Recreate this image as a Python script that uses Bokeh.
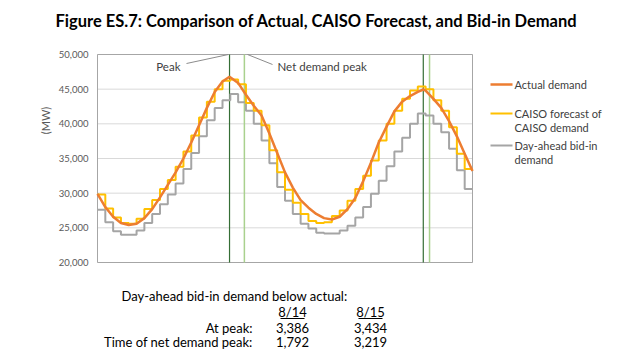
import math
from bokeh.plotting import figure
from bokeh.models import Range1d
from bokeh.core.properties import value
from bokeh.embed import file_html
from bokeh.resources import INLINE

# ---------------- data ----------------
step_hours = list(range(49))  # hour edges over 8/14 - 8/15

bid_in_mw = [27600, 25800, 24500, 24000, 24000, 24600, 25700, 27000, 28400, 29800, 31400, 33500,
             35800, 38200, 40500, 42300, 43400, 44300, 43100, 41900, 40000, 37600, 34300, 30900,
             28900, 27000, 25600, 24900, 24300, 24200, 24200, 24600, 25300, 26500, 28000, 29900,
             31800, 33900, 36000, 38000, 40000, 41500, 41200, 40000, 38800, 36400, 33300, 30600]

forecast_mw = [29800, 27800, 26500, 25700, 25600, 26300, 27700, 29000, 30600, 31900, 33800, 36000,
               38300, 40900, 43200, 45000, 46200, 46400, 45700, 43000, 41900, 39800, 36200, 33000,
               30500, 28600, 27000, 26000, 25700, 25800, 26700, 27500, 28900, 30600, 32500, 34700,
               37600, 40000, 41900, 43600, 44800, 45400, 45000, 43400, 41900, 39500, 35700, 33500]

actual_hours = [0, 1, 2, 3, 4, 5, 6, 7, 8, 9, 10, 11, 12, 13, 14, 15, 16, 16.9, 18, 19, 20, 21, 22,
                23, 24, 25, 26, 27, 28, 29, 30, 31, 32, 33, 34, 35, 36, 37, 38, 39, 40, 41, 41.7,
                42, 43, 44, 45, 46, 47, 48]
actual_mw = [29900, 28000, 26600, 25700, 25400, 25600, 26400, 27700, 29400, 31200, 33000, 35000,
             37300, 39800, 42300, 44600, 46100, 46800, 45900, 44200, 42600, 41200, 38600, 35800,
             33000, 30800, 29000, 27900, 27000, 26400, 26200, 26600, 27700, 29300, 31700, 34400,
             37300, 39600, 41800, 43200, 44000, 44600, 44950, 44800, 43600, 42300, 40400, 38200,
             35700, 33200]

peak_hours = [16.9, 41.7]
net_peak_hours = [18.8, 42.5]

y_ticks = [20000, 25000, 30000, 35000, 40000, 45000, 50000]

series_names = ["Actual demand", "CAISO forecast of\nCAISO demand", "Day-ahead bid-in\ndemand"]

table_dates = ["8/14", "8/15"]
table_at_peak = [3386, 3434]
table_net_peak = [1792, 3219]

# ---------------- layout (pixels) ----------------
W, H = 617, 360
BOX_L, BOX_R, BOX_T, BOX_B = 97, 472, 54, 262   # chart box on the canvas
X0, X1 = step_hours[0], step_hours[-1]
Y0, Y1 = y_ticks[0], y_ticks[-1]
xpp = (X1 - X0) / (BOX_R - BOX_L)
ypp = (Y1 - Y0) / (BOX_B - BOX_T)

def X(px):
    return X0 + (px - BOX_L) * xpp

def Y(py):
    return Y1 - (py - BOX_T) * ypp

FONT = value("Lato")
TXT = "#404040"
C_ACT, C_FC, C_BID = "#ED7D31", "#FFC000", "#A5A5A5"

p = figure(width=W, height=H, output_backend="svg", toolbar_location=None,
           x_range=Range1d(X(0), X(W)), y_range=Range1d(Y(H), Y(0)),
           x_axis_location=None, y_axis_location=None, min_border=0)
p.grid.visible = False
p.outline_line_color = None
p.background_fill_color = "white"
p.border_fill_color = "white"

# horizontal gridlines + chart box
p.segment(x0=[X0] * len(y_ticks), y0=y_ticks, x1=[X1] * len(y_ticks), y1=y_ticks,
          line_color="#D9D9D9", line_width=1)
p.quad(left=[X0], right=[X1], bottom=[Y0], top=[Y1], fill_color=None,
       line_color="#A6A6A6", line_width=1)

# y tick labels and unit label
p.text(x=[X(88)] * len(y_ticks), y=y_ticks, text=[f"{t:,}" for t in y_ticks],
       text_align="right", text_baseline="middle", text_font=FONT,
       text_font_size="9.5px", text_color="#595959")
p.text(x=[X(45)], y=[Y(120)], text=["(MW)"], angle=math.pi / 2, text_align="center",
       text_baseline="middle", text_font=FONT, text_font_size="11px", text_color="#595959")

# peak markers
p.segment(x0=peak_hours, y0=[Y0] * 2, x1=peak_hours, y1=[Y1] * 2,
          line_color="#356E35", line_width=1.2)
p.segment(x0=net_peak_hours, y0=[Y0] * 2, x1=net_peak_hours, y1=[Y1] * 2,
          line_color="#A9D18E", line_width=1.5)

# series
p.step(step_hours, bid_in_mw + [bid_in_mw[-1]], mode="after", line_color=C_BID, line_width=2)
p.step(step_hours, forecast_mw + [forecast_mw[-1]], mode="after", line_color=C_FC, line_width=2)
p.line(actual_hours, actual_mw, line_color=C_ACT, line_width=2.5)

# peak call-outs
p.segment(x0=[X(186)], y0=[Y(63)], x1=[peak_hours[0] - 0.15], y1=[Y1],
          line_color="#8C8C8C", line_width=1)
p.segment(x0=[net_peak_hours[0] + 0.4], y0=[Y1], x1=[X(272)], y1=[Y(64)],
          line_color="#8C8C8C", line_width=1)
p.text(x=[X(180)], y=[Y(66)], text=["Peak"], text_align="right", text_baseline="middle",
       text_font=FONT, text_font_size="11.5px", text_color=TXT)
p.text(x=[X(277)], y=[Y(66)], text=["Net demand peak"], text_align="left",
       text_baseline="middle", text_font=FONT, text_font_size="11.5px", text_color=TXT)

# title
p.text(x=[X(316)], y=[Y(20)],
       text=["Figure ES.7: Comparison of Actual, CAISO Forecast, and Bid-in Demand"],
       text_align="center", text_baseline="middle", text_font=FONT, text_font_size="16.5px",
       text_font_style="bold", text_color="black")

# legend (drawn by hand so that the sample sits on the first label line)
leg_y = [84, 113, 145]
leg_colors = [C_ACT, C_FC, C_BID]
leg_widths = [2.5, 2, 2]
for ly, col, lw, name in zip(leg_y, leg_colors, leg_widths, series_names):
    p.segment(x0=[X(490)], y0=[Y(ly)], x1=[X(512)], y1=[Y(ly)], line_color=col, line_width=lw)
    for k, line in enumerate(name.split("\n")):
        p.text(x=[X(514)], y=[Y(ly + 14 * k)], text=[line], text_align="left",
               text_baseline="middle", text_font=FONT, text_font_size="11px", text_color=TXT)

# table below the chart
def ttext(pxs, pys, texts, align):
    p.text(x=[X(v) for v in pxs], y=[Y(v) for v in pys], text=texts, text_align=align,
           text_baseline="middle", text_font=FONT, text_font_size="13px", text_color="black")

ttext([121], [295], ["Day-ahead bid-in demand below actual:"], "left")
col_px = [292, 370]
ttext(col_px, [311, 311], table_dates, "center")
p.segment(x0=[X(c - 12) for c in col_px], y0=[Y(318)] * 2, x1=[X(c + 12) for c in col_px],
          y1=[Y(318)] * 2, line_color="black", line_width=1)
ttext(col_px, [327, 327], [f"{v:,}" for v in table_at_peak], "center")
ttext(col_px, [341, 341], [f"{v:,}" for v in table_net_peak], "center")
ttext([252, 252], [327, 341], ["At peak:", "Time of net demand peak:"], "right")

open("out.html", "w").write(file_html(p, INLINE))
